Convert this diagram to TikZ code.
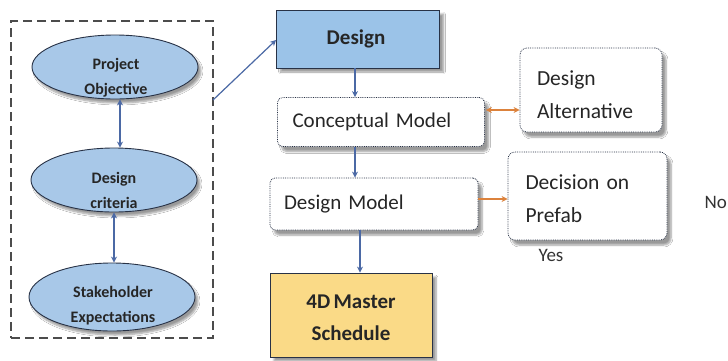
\documentclass[tikz,border=0pt]{standalone}
\usepackage{fontspec}
\setmainfont{Carlito}[WordSpace=0.7]
\usetikzlibrary{shapes.geometric,arrows.meta,shadows.blur}
\definecolor{ellfill}{RGB}{168,200,232}
\definecolor{desfill}{RGB}{155,195,232}
\definecolor{schedfill}{RGB}{250,218,135}
\definecolor{linkblue}{RGB}{75,105,165}
\definecolor{linkorange}{RGB}{220,130,60}
\definecolor{edgedark}{RGB}{40,50,70}
\tikzset{
  goal/.style={ellipse, draw=edgedark, line width=0.9pt, fill=ellfill,
    minimum width=166pt, minimum height=64pt, inner sep=0pt,
    blur shadow={shadow blur steps=6, shadow xshift=3pt, shadow yshift=-4pt}},
  goaltext/.style={align=center, font=\fontsize{16}{25}\selectfont\bfseries, text=black!85},
  solidbox/.style={rectangle, draw=edgedark, line width=0.8pt,
    blur shadow={shadow blur steps=6, shadow xshift=4pt, shadow yshift=-4pt}},
  boldtext/.style={align=center, font=\fontsize{21}{32}\selectfont\bfseries, text=black!85},
  modelbox/.style={rectangle, rounded corners=5pt, draw=edgedark, densely dotted,
    line width=0.8pt, fill=white, font=\fontsize{21}{26}\selectfont, text=black!85,
    blur shadow={shadow blur steps=6, shadow xshift=4pt, shadow yshift=-5pt}},
  sidebox/.style={rectangle, rounded corners=7pt, draw=edgedark, densely dotted,
    line width=0.8pt, fill=white,
    blur shadow={shadow blur steps=6, shadow xshift=4pt, shadow yshift=-5pt}},
  sidetext/.style={font=\fontsize{21.5}{33}\selectfont, text=black!85, align=left},
  flow/.style={draw=linkblue, line width=1.2pt, -{Stealth[length=6pt,width=6pt]}},
  twoway/.style={draw=linkblue, line width=1.2pt, {Stealth[length=6pt,width=6pt]}-{Stealth[length=6pt,width=6pt]}},
  sideflow/.style={draw=linkorange, line width=1.2pt, -{Stealth[length=6pt,width=6pt]}},
  sidetwoway/.style={draw=linkorange, line width=1.2pt, {Stealth[length=6pt,width=6pt]}-{Stealth[length=6pt,width=6pt]}},
  answer/.style={font=\fontsize{19}{22}\selectfont, text=black!80}
}
\begin{document}
\begin{tikzpicture}[x=1pt,y=-1pt]
\useasboundingbox (0,0) rectangle (728,360);
\fill[white] (0,0) rectangle (728,360);

% goal stack inside the dashed frame
\begin{scope}
\clip (11,21) rectangle (213,338);
\node[goal] (obj) at (115,67) {};
\node[goal] (crit) at (114,180) {};
\node[goal, minimum height=68pt] (stake) at (112,297) {};
\node[goaltext] (objtxt) at (116,78) {Project\\Objective};
\node[goaltext] (crittxt) at (114,190) {Design\\criteria};
\node[goaltext] (staketxt) at (113,306) {Stakeholder\\Expectations};
\end{scope}
\node[draw=black!70, dashed, dash pattern=on 9pt off 5pt, line width=1.1pt,
  minimum width=202pt, minimum height=317pt, inner sep=0pt] (frame) at (112,179.5) {};
\draw[twoway] (obj.south -| 120,0) -- (crit.north -| 120,0);
\draw[twoway] (crit.south -| 114,0) -- (stake.north -| 114,0);

% main design flow
\node[solidbox, fill=desfill, minimum width=163pt, minimum height=58pt] (des) at (358,39) {};
\node[boldtext] (destxt) at (356,39) {Design};
\node[modelbox, minimum width=207pt, minimum height=49pt, text width=177pt, align=left] (concept) at (381,122) {Conceptual~Model};
\node[modelbox, minimum width=208pt, minimum height=52pt, text width=180pt, align=left] (dmodel) at (374,204) {Design~Model};
\node[solidbox, fill=schedfill, minimum width=162pt, minimum height=84pt] (sched) at (351,315) {};
\node[boldtext] (schedtxt) at (351,318) {4D Master\\Schedule};

\coordinate (frameout) at (213,100);
\draw[flow] (frameout) -- (des.west |- 0,40) ;
\draw[flow] (des.south -| 355,0) -- (concept.north -| 355,0);
\draw[flow] (concept.south -| 355,0) -- (dmodel.north -| 355,0);
\draw[flow] (dmodel.south -| 360,0) -- (sched.north -| 360,0);

% side decisions
\node[sidebox, minimum width=142pt, minimum height=84pt] (alt) at (591,90) {};
\node[sidetext, text width=108pt] (alttxt) at (591,95) {Design\\Alternative};
\node[sidebox, minimum width=159pt, minimum height=88pt] (prefab) at (587.5,196) {};
\node[sidetext, text width=124pt] (prefabtxt) at (587.5,199) {Decision on\\Prefab};
\draw[sidetwoway] ([xshift=1pt]concept.east |- 0,110) -- (alt.west |- 0,110);
\draw[sideflow] (dmodel.east |- 0,199) -- (prefab.west |- 0,199);
\node[answer] (yes) at (551,255) {Yes};
\node[answer, anchor=east, inner xsep=1pt] (no) at (728,202) {No};
\end{tikzpicture}
\end{document}
